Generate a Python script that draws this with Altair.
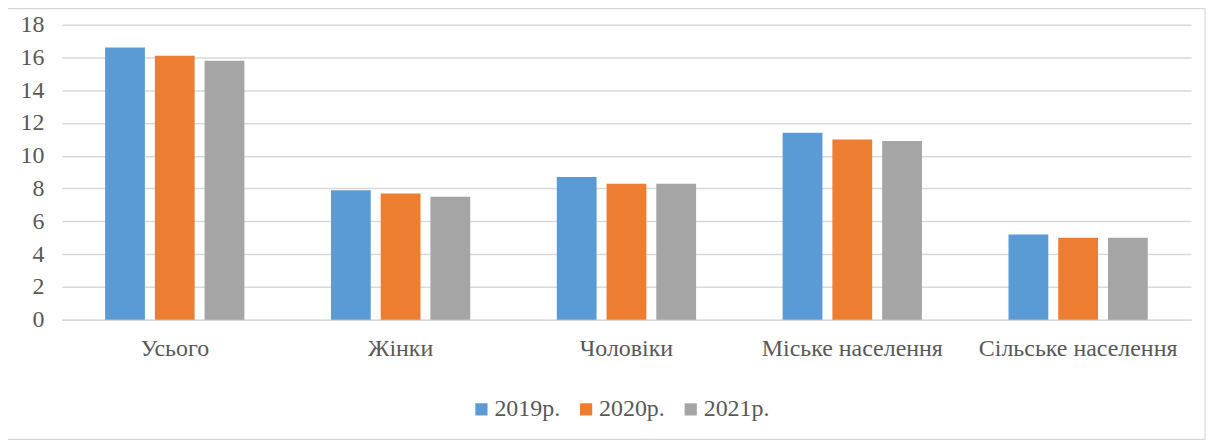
import altair as alt
import pandas as pd

categories = ["Усього", "Жінки", "Чоловіки", "Міське населення", "Сільське населення"]
years = ["2019р.", "2020р.", "2021р."]
v2019 = [16.6, 7.9, 8.7, 11.4, 5.2]
v2020 = [16.1, 7.7, 8.3, 11.0, 5.0]
v2021 = [15.8, 7.5, 8.3, 10.9, 5.0]
colors = ["#5B9BD5", "#ED7D31", "#A5A5A5"]
y_ticks = [0, 2, 4, 6, 8, 10, 12, 14, 16, 18]

rows = []
for yr, vals in zip(years, [v2019, v2020, v2021]):
    for c, v in zip(categories, vals):
        rows.append({"cat": c, "year": yr, "value": v})
df = pd.DataFrame(rows)

FONT = "Liberation Serif"
FS = 24
W, H = 1133, 296

bars = alt.Chart(df).mark_bar().encode(
    x=alt.X("cat:N", sort=categories,
            scale=alt.Scale(paddingInner=0, paddingOuter=0),
            axis=alt.Axis(title=None, labelAngle=0, ticks=False, domain=True,
                          domainColor="#d9d9d9", domainWidth=1.5,
                          labelFont=FONT, labelFontSize=FS, labelColor="#595959",
                          labelPadding=17, labelLimit=0, grid=False)),
    xOffset=alt.XOffset("year:N", sort=years,
                        scale=alt.Scale(paddingInner=0.2, paddingOuter=0.87)),
    y=alt.Y("value:Q", scale=alt.Scale(domain=[0, 18], nice=False),
            axis=alt.Axis(title=None, values=y_ticks, ticks=False, domain=False,
                          gridColor="#d9d9d9", gridWidth=1.5,
                          labelFont=FONT, labelFontSize=FS, labelColor="#595959",
                          labelPadding=18)),
    color=alt.Color("year:N", sort=years,
                    scale=alt.Scale(domain=years, range=colors),
                    legend=alt.Legend(title=None, orient="none", direction="horizontal",
                                      legendX=409, legendY=374,
                                      symbolType="square", symbolSize=150,
                                      symbolStrokeWidth=0,
                                      labelFont=FONT, labelFontSize=FS,
                                      labelColor="#595959", columnPadding=14,
                                      labelOffset=1, labelLimit=0)),
)

frame = alt.Chart(pd.DataFrame({"a": [0]})).mark_rect(
    fill=None, stroke="#d9d9d9", strokeWidth=1.2
).encode(
    x=alt.value(-55), x2=alt.value(1147),
    y=alt.value(-16), y2=alt.value(416),
)

chart = alt.layer(frame, bars).properties(
    width=W, height=H,
    autosize=alt.AutoSizeParams(type="none"),
    padding={"left": 54, "top": 16, "right": 20, "bottom": 120},
).configure_view(stroke=None)

chart.save("out.html", embed_options={"renderer": "svg", "actions": False})
